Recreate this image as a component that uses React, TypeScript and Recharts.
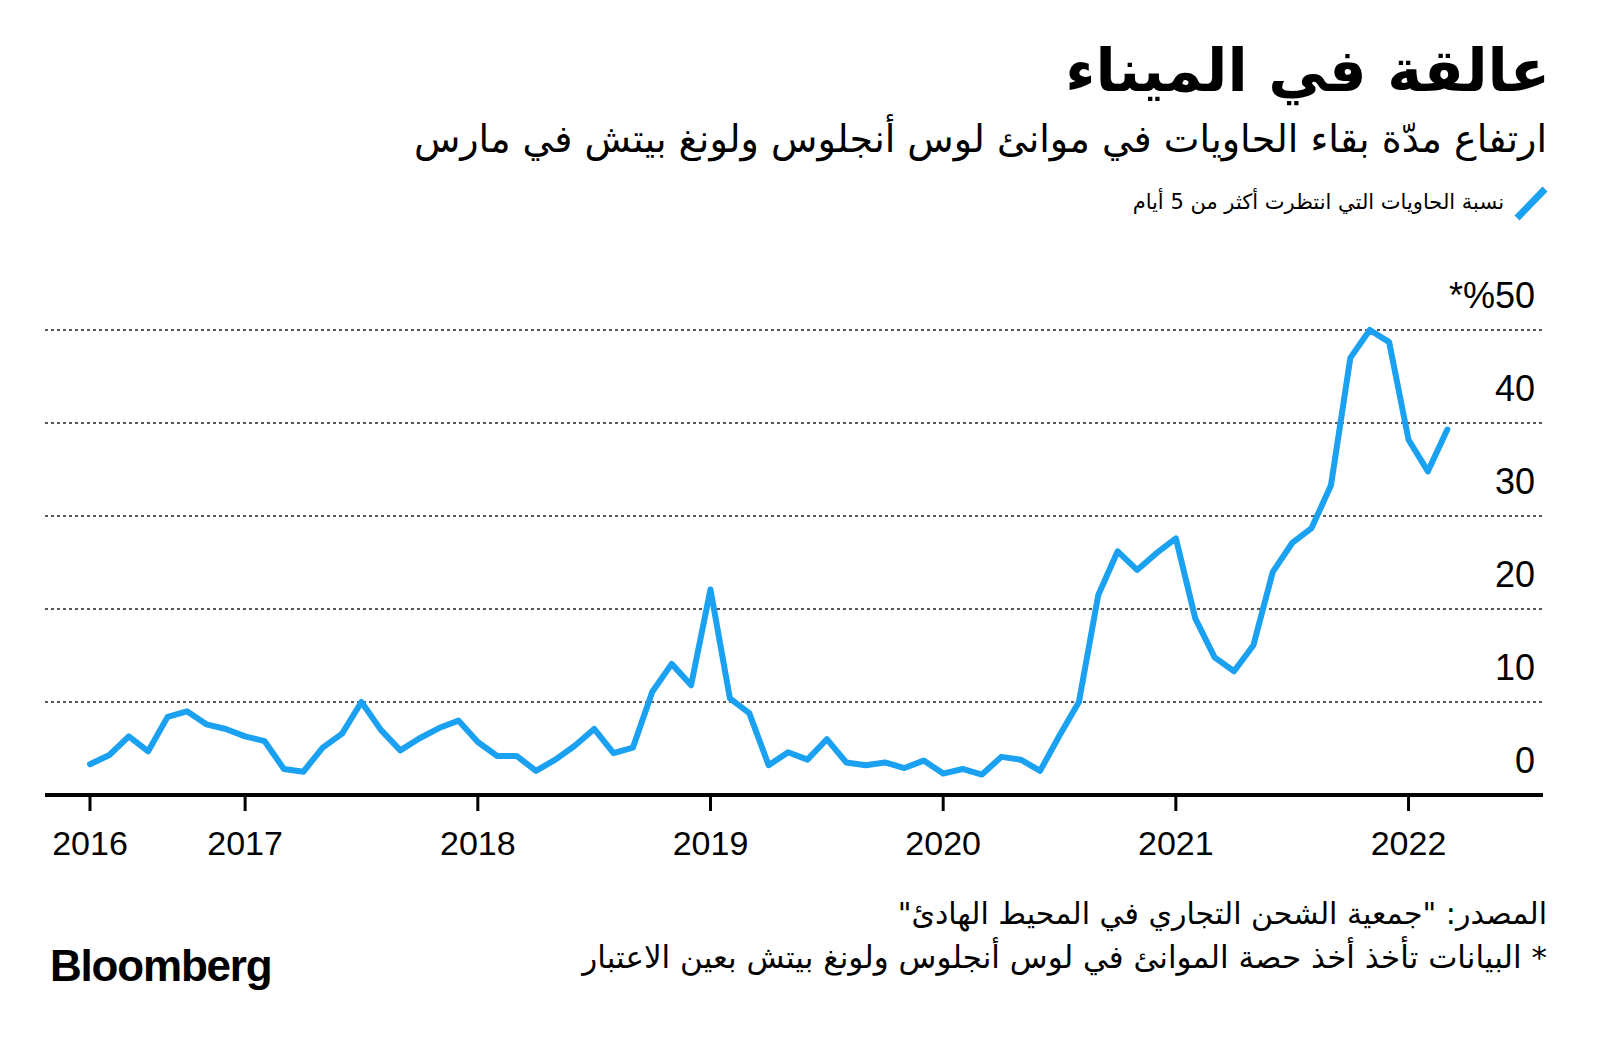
import React from "react";
import { CartesianGrid, Line, LineChart, XAxis, YAxis } from "recharts";

// monthly share of containers waiting more than 5 days, May 2016 .. Mar 2022
const waitShare = [
  3.3, 4.3, 6.3, 4.7, 8.4, 9.0, 7.6, 7.1,
  6.3, 5.8, 2.8, 2.5, 5.1, 6.6, 10.0, 7.0, 4.8, 6.1, 7.2, 8.0,
  5.7, 4.2, 4.2, 2.6, 3.8, 5.3, 7.1, 4.5, 5.1, 11.1, 14.1, 11.8,
  22.1, 10.4, 8.8, 3.2, 4.6, 3.8, 6.0, 3.5, 3.2, 3.5, 2.9, 3.7,
  2.3, 2.8, 2.2, 4.1, 3.8, 2.6, 6.4, 10.0, 21.5, 26.2, 24.2, 26.0,
  27.6, 19.0, 14.8, 13.3, 16.1, 24.0, 27.1, 28.7, 33.3, 47.0, 50.0, 48.7,
  38.2, 34.8, 39.3,
];

// month index (0 = May 2016) where each year label sits
const yearTicks = [0, 8, 20, 32, 44, 56, 68];
const yearLabels = ["2016", "2017", "2018", "2019", "2020", "2021", "2022"];
const yTicks = [0, 10, 20, 30, 40, 50];

const title = "عالقة في الميناء";
const subtitle = "ارتفاع مدّة بقاء الحاويات في موانئ لوس أنجلوس ولونغ بيتش في مارس";
const legendLabel = "نسبة الحاويات التي انتظرت أكثر من 5 أيام";
const sourceLine = "المصدر: \"جمعية الشحن التجاري في المحيط الهادئ\"";
const noteLine = "* البيانات تأخذ أخذ حصة الموانئ في لوس أنجلوس ولونغ بيتش بعين الاعتبار";

const data = waitShare.map((v, i) => ({ t: i, v }));

const BLUE = "#1ba1f2";
const NUM_FONT = "'Liberation Sans', Arial, sans-serif";
const AR_FONT = "'DejaVu Sans', sans-serif";

function YTick(props: any) {
  const { x, y, payload } = props;
  const label = payload.value === 50 ? "*%50" : String(payload.value);
  return (
    <text x={x} y={y - 22} textAnchor="end" direction="ltr" fill="#000" fontSize={36} fontFamily={NUM_FONT}>
      {label}
    </text>
  );
}

const arText: React.CSSProperties = {
  position: "absolute",
  right: 53,
  direction: "rtl",
  whiteSpace: "nowrap",
  fontFamily: AR_FONT,
  color: "#000",
  lineHeight: 1,
  margin: 0,
};

export default function App() {
  return (
    <div style={{ position: "relative", width: 1600, height: 1047, background: "#fff", overflow: "hidden" }}>
      <style>{"body{margin:0}"}</style>
      <div style={{ ...arText, right: 50, top: 41, fontSize: 59, fontWeight: 700 }}>{title}</div>
      <div style={{ ...arText, top: 120, fontSize: 38 }}>{subtitle}</div>
      <svg style={{ position: "absolute", left: 1512, top: 184 }} width={40} height={40}>
        <line x1={5} y1={34} x2={33} y2={5} stroke={BLUE} strokeWidth={7} />
      </svg>
      <div style={{ ...arText, right: 96, top: 192, fontSize: 21 }}>{legendLabel}</div>

      <LineChart
        width={1600}
        height={1047}
        data={data}
        margin={{ top: 330, right: 57, bottom: 192, left: 45 }}
        style={{ position: "absolute", left: 0, top: 0 }}
      >
        <CartesianGrid vertical={false} stroke="#222" strokeWidth={1.6} strokeDasharray="3 3" />
        <XAxis
          type="number"
          dataKey="t"
          domain={[-2.321, 74.935]}
          ticks={yearTicks}
          tickFormatter={(t: number) => yearLabels[yearTicks.indexOf(t)]}
          height={60}
          axisLine={{ stroke: "#000", strokeWidth: 4 }}
          tickLine={{ stroke: "#000", strokeWidth: 3 }}
          tickSize={16}
          tickMargin={20}
          tick={{ fill: "#000", fontSize: 34, fontFamily: NUM_FONT }}
          interval={0}
        />
        <YAxis
          orientation="right"
          mirror
          domain={[0, 50]}
          ticks={yTicks}
          axisLine={false}
          tickLine={false}
          tick={(p: any) => <YTick {...p} />}
          interval={0}
        />
        <Line
          type="linear"
          dataKey="v"
          stroke={BLUE}
          strokeWidth={6}
          strokeLinejoin="round"
          strokeLinecap="round"
          dot={false}
          activeDot={false}
          isAnimationActive={false}
        />
      </LineChart>

      <div style={{ ...arText, top: 899, fontSize: 30 }}>{sourceLine}</div>
      <div style={{ ...arText, top: 942, fontSize: 31 }}>{noteLine}</div>
      <div
        style={{
          position: "absolute",
          left: 50,
          top: 944,
          fontFamily: NUM_FONT,
          fontWeight: 700,
          fontSize: 44,
          letterSpacing: -1.2,
          lineHeight: 1,
          color: "#000",
        }}
      >
        Bloomberg
      </div>
    </div>
  );
}
